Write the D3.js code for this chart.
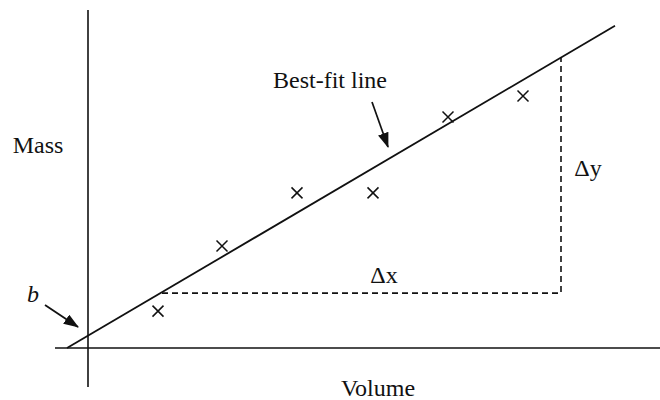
<!DOCTYPE html>
<html><head><meta charset="utf-8">
<script src="https://cdn.jsdelivr.net/npm/d3@7"></script>
<style>body{margin:0;background:#fff}svg{display:block}text{font-family:"Liberation Serif","Times New Roman",serif;fill:#111}</style>
</head><body><svg id="c" width="660" height="400"></svg>
<script>
// Data (arbitrary units)
const volumes = [1.4, 2.68, 4.18, 5.7, 7.2, 8.7];
const masses  = [1.23, 3.4, 5.17, 5.17, 7.7, 8.4];
const intercept = 0.41;
const slope = 0.98;          // mass units per volume unit
const fitRange = [-0.42, 10.54];
const dxRange = [1.48, 9.46]; // Δx dashed segment (volume)
const dyBase = 1.83;          // mass level of Δx dashed segment
const labels = {x: "Volume", y: "Mass", fit: "Best-fit line", dx: "Δx", dy: "Δy", b: "b"};

const svg = d3.select("#c");
const x = d3.scaleLinear().domain([0, 10]).range([88, 588]);
const y = d3.scaleLinear().domain([0, 10]).range([348, 48]);
const ink = "#111";

// axes
svg.append("line").attr("x1", x(-0.66)).attr("x2", x(11.5)).attr("y1", y(0)).attr("y2", y(0))
  .attr("stroke", ink).attr("stroke-width", 1.6);
svg.append("line").attr("x1", x(0)).attr("x2", x(0)).attr("y1", y(11.27)).attr("y2", y(-1.3))
  .attr("stroke", ink).attr("stroke-width", 1.6);

// best-fit line
const f = v => intercept + slope * v;
svg.append("line").attr("x1", x(fitRange[0])).attr("y1", y(f(fitRange[0])))
  .attr("x2", x(fitRange[1])).attr("y2", y(f(fitRange[1])))
  .attr("stroke", ink).attr("stroke-width", 1.8);

// dashed Δx / Δy
svg.append("path")
  .attr("d", `M${x(dxRange[0])},${y(dyBase)}H${x(dxRange[1])}V${y(f(dxRange[1]))}`)
  .attr("fill", "none").attr("stroke", ink).attr("stroke-width", 1.6).attr("stroke-dasharray", "6,4");

// points
const s = 5.5;
svg.selectAll("path.pt").data(volumes.map((v, i) => [v, masses[i]])).enter().append("path")
  .attr("class", "pt")
  .attr("d", d => `M${x(d[0]) - s},${y(d[1]) - s}L${x(d[0]) + s},${y(d[1]) + s}M${x(d[0]) - s},${y(d[1]) + s}L${x(d[0]) + s},${y(d[1]) - s}`)
  .attr("stroke", ink).attr("stroke-width", 1.5).attr("fill", "none");

// arrows
svg.append("defs").append("marker").attr("id", "ah").attr("viewBox", "0 0 14 10")
  .attr("refX", 13).attr("refY", 5).attr("markerWidth", 9).attr("markerHeight", 6.5)
  .attr("markerUnits", "strokeWidth").attr("orient", "auto")
  .append("path").attr("d", "M0,0L14,5L0,10Z").attr("fill", ink);
svg.append("line").attr("x1", 372).attr("y1", 102).attr("x2", 388).attr("y2", 147)
  .attr("stroke", ink).attr("stroke-width", 1.7).attr("marker-end", "url(#ah)");
svg.append("line").attr("x1", 45).attr("y1", 305).attr("x2", 78).attr("y2", 327)
  .attr("stroke", ink).attr("stroke-width", 1.7).attr("marker-end", "url(#ah)");

// labels
const fs = 24;
svg.append("text").attr("x", 38).attr("y", 153).attr("text-anchor", "middle").attr("font-size", fs).text(labels.y);
svg.append("text").attr("x", 378).attr("y", 396).attr("text-anchor", "middle").attr("font-size", fs).text(labels.x);
svg.append("text").attr("x", 330).attr("y", 88).attr("text-anchor", "middle").attr("font-size", fs).text(labels.fit);
svg.append("text").attr("x", 384).attr("y", 283).attr("text-anchor", "middle").attr("font-size", fs).text(labels.dx);
svg.append("text").attr("x", 588).attr("y", 176).attr("text-anchor", "middle").attr("font-size", fs).text(labels.dy);
svg.append("text").attr("x", 33).attr("y", 302).attr("text-anchor", "middle").attr("font-size", fs).attr("font-style", "italic").text(labels.b);
</script></body></html>
